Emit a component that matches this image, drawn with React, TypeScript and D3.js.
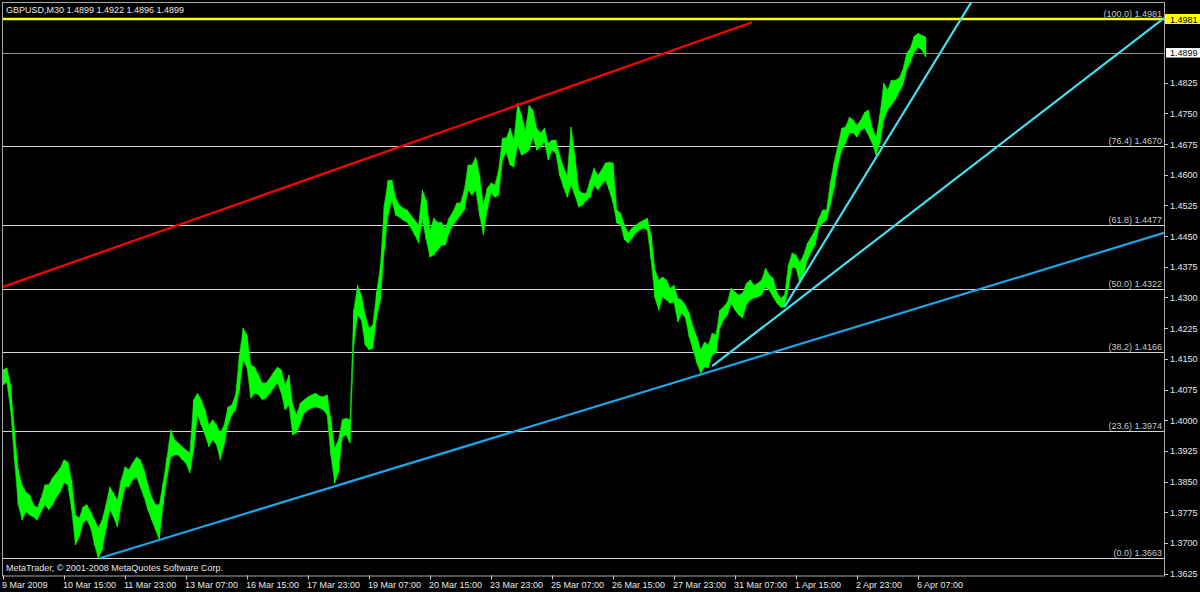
import React from 'react';
import * as d3 from 'd3';

// GBPUSD M30, one high/low pair every 4 bars (2 hours)
const highs = [
  1.4123, 1.4128, 1.4086, 1.3976, 1.3879, 1.3842, 1.3824, 1.3817, 1.3793, 1.3786,
  1.3810, 1.3842, 1.3842, 1.3859, 1.3871, 1.3883, 1.3903, 1.3898, 1.3854, 1.3768,
  1.3761, 1.3788, 1.3793, 1.3776, 1.3756, 1.3737, 1.3756, 1.3793, 1.3837, 1.3822,
  1.3805, 1.3854, 1.3886, 1.3879, 1.3895, 1.3910, 1.3903, 1.3879, 1.3842, 1.3812,
  1.3793, 1.3793, 1.3847, 1.3908, 1.3976, 1.3952, 1.3944, 1.3935, 1.3927, 1.3920,
  1.4050, 1.4066, 1.4050, 1.4025, 1.3988, 1.4001, 1.3988, 1.3969, 1.3988, 1.4032,
  1.4037, 1.4062, 1.4159, 1.4225, 1.4208, 1.4135, 1.4130, 1.4111, 1.4091, 1.4091,
  1.4103, 1.4118, 1.4130, 1.4123, 1.4086, 1.4110, 1.4037, 1.4013, 1.4042, 1.4050,
  1.4057, 1.4062, 1.4066, 1.4059, 1.4057, 1.4062, 1.4001, 1.3932, 1.3952, 1.4001,
  1.4005, 1.4001, 1.4269, 1.4330, 1.4306, 1.4257, 1.4225, 1.4233, 1.4313, 1.4379,
  1.4526, 1.4587, 1.4587, 1.4543, 1.4526, 1.4518, 1.4514, 1.4501, 1.4489, 1.4477,
  1.4563, 1.4538, 1.4465, 1.4494, 1.4484, 1.4484, 1.4470, 1.4494, 1.4509, 1.4531,
  1.4531, 1.4563, 1.4624, 1.4624, 1.4643, 1.4599, 1.4526, 1.4567, 1.4580, 1.4575,
  1.4612, 1.4690, 1.4690, 1.4714, 1.4685, 1.4775, 1.4746, 1.4709, 1.4770, 1.4758,
  1.4714, 1.4702, 1.4714, 1.4677, 1.4685, 1.4685, 1.4648, 1.4619, 1.4599, 1.4717,
  1.4648, 1.4563, 1.4555, 1.4555, 1.4587, 1.4616, 1.4599, 1.4612, 1.4629, 1.4631,
  1.4629, 1.4514, 1.4506, 1.4477, 1.4458, 1.4470, 1.4477, 1.4484, 1.4489, 1.4494,
  1.4453, 1.4367, 1.4343, 1.4350, 1.4343, 1.4323, 1.4330, 1.4298, 1.4294, 1.4281,
  1.4262, 1.4228, 1.4203, 1.4172, 1.4191, 1.4184, 1.4213, 1.4208, 1.4269, 1.4277,
  1.4289, 1.4323, 1.4313, 1.4306, 1.4311, 1.4335, 1.4343, 1.4330, 1.4335, 1.4343,
  1.4372, 1.4355, 1.4347, 1.4313, 1.4298, 1.4306, 1.4379, 1.4409, 1.4404, 1.4386,
  1.4404, 1.4433, 1.4448, 1.4465, 1.4494, 1.4514, 1.4514, 1.4580, 1.4631, 1.4672,
  1.4714, 1.4717, 1.4741, 1.4734, 1.4721, 1.4734, 1.4753, 1.4758, 1.4714, 1.4692,
  1.4746, 1.4824, 1.4807, 1.4831, 1.4831, 1.4836, 1.4856, 1.4897, 1.4910, 1.4939,
  1.4946, 1.4941, 1.4937,
];

const lows = [
  1.4086, 1.4093, 1.4025, 1.3903, 1.3793, 1.3756, 1.3776, 1.3768, 1.3763, 1.3756,
  1.3776, 1.3793, 1.3781, 1.3793, 1.3812, 1.3824, 1.3847, 1.3842, 1.3781, 1.3695,
  1.3715, 1.3749, 1.3756, 1.3737, 1.3695, 1.3663, 1.3683, 1.3732, 1.3781, 1.3763,
  1.3739, 1.3793, 1.3837, 1.3837, 1.3854, 1.3861, 1.3837, 1.3812, 1.3781, 1.3756,
  1.3732, 1.3708, 1.3793, 1.3859, 1.3910, 1.3915, 1.3915, 1.3903, 1.3895, 1.3871,
  1.3927, 1.4013, 1.3988, 1.3964, 1.3935, 1.3952, 1.3940, 1.3903, 1.3940, 1.3988,
  1.4013, 1.4025, 1.4074, 1.4147, 1.4128, 1.4054, 1.4066, 1.4062, 1.4050, 1.4054,
  1.4066, 1.4079, 1.4091, 1.4066, 1.4025, 1.4037, 1.3964, 1.3969, 1.3993, 1.4018,
  1.4025, 1.4030, 1.4032, 1.4030, 1.4025, 1.4013, 1.3915, 1.3846, 1.3873, 1.3959,
  1.3964, 1.3944, 1.4184, 1.4257, 1.4245, 1.4184, 1.4172, 1.4176, 1.4252, 1.4294,
  1.4416, 1.4501, 1.4538, 1.4501, 1.4496, 1.4489, 1.4484, 1.4470, 1.4453, 1.4433,
  1.4489, 1.4441, 1.4399, 1.4404, 1.4416, 1.4428, 1.4428, 1.4458, 1.4477, 1.4489,
  1.4501, 1.4514, 1.4563, 1.4550, 1.4563, 1.4501, 1.4453, 1.4514, 1.4555, 1.4545,
  1.4550, 1.4636, 1.4655, 1.4624, 1.4619, 1.4673, 1.4648, 1.4653, 1.4660, 1.4692,
  1.4660, 1.4668, 1.4680, 1.4636, 1.4660, 1.4653, 1.4599, 1.4570, 1.4545, 1.4575,
  1.4550, 1.4521, 1.4526, 1.4538, 1.4545, 1.4575, 1.4563, 1.4575, 1.4587, 1.4563,
  1.4531, 1.4482, 1.4477, 1.4441, 1.4433, 1.4445, 1.4458, 1.4465, 1.4470, 1.4465,
  1.4392, 1.4299, 1.4269, 1.4301, 1.4294, 1.4286, 1.4289, 1.4240, 1.4262, 1.4250,
  1.4203, 1.4172, 1.4140, 1.4115, 1.4130, 1.4128, 1.4159, 1.4164, 1.4225, 1.4245,
  1.4257, 1.4286, 1.4269, 1.4257, 1.4250, 1.4282, 1.4294, 1.4299, 1.4301, 1.4306,
  1.4325, 1.4318, 1.4301, 1.4286, 1.4276, 1.4276, 1.4323, 1.4374, 1.4372, 1.4335,
  1.4355, 1.4392, 1.4411, 1.4428, 1.4470, 1.4482, 1.4489, 1.4526, 1.4567, 1.4624,
  1.4660, 1.4677, 1.4702, 1.4702, 1.4692, 1.4709, 1.4714, 1.4697, 1.4677, 1.4648,
  1.4677, 1.4734, 1.4758, 1.4770, 1.4783, 1.4802, 1.4819, 1.4856, 1.4875, 1.4900,
  1.4912, 1.4905, 1.4888,
];
const barsPerSample = 4;

const timeLabels = [
  '9 Mar 2009', '10 Mar 15:00', '11 Mar 23:00', '13 Mar 07:00', '16 Mar 15:00',
  '17 Mar 23:00', '19 Mar 07:00', '20 Mar 15:00', '23 Mar 23:00', '25 Mar 07:00',
  '26 Mar 15:00', '27 Mar 23:00', '31 Mar 07:00', '1 Apr 15:00', '2 Apr 23:00', '6 Apr 07:00',
];
const barsPerTimeLabel = 64;

const priceTicks = [
  1.4825, 1.4750, 1.4675, 1.4600, 1.4525, 1.4450, 1.4375, 1.4300, 1.4225,
  1.4150, 1.4075, 1.4000, 1.3925, 1.3850, 1.3775, 1.3700, 1.3625,
];

const fibLevels = ['0.0', '23.6', '38.2', '50.0', '61.8', '76.4', '100.0'];
const fibPrices = [1.3663, 1.3974, 1.4166, 1.4322, 1.4477, 1.4670, 1.4981];

const yellowLine = 1.4981;
const lastPrice = 1.4899;
const header = 'GBPUSD,M30  1.4899 1.4922 1.4896 1.4899';

// trend lines: [bar, price] pairs, ray = extend to right edge
const trendLines = [
  { from: [-1, 1.4325], to: [786, 1.4973], color: '#ff0000', ray: false },
  { from: [102, 1.3663], to: [721, 1.4104], color: '#1aa6e8', ray: true },
  { from: [744, 1.4132], to: [1130, 1.4825], color: '#40e0f0', ray: true },
  { from: [820, 1.4277], to: [983, 1.4897], color: '#40e0f0', ray: true },
];

const W = 1200;
const H = 592;
const L = 2, T = 2, R = 1164, B = 575.5;
const font = "'Liberation Sans', Arial, sans-serif";

export default function App() {
  const x = d3.scaleLinear().domain([0, barsPerTimeLabel]).range([3, 64]);
  const y = d3.scaleLinear().domain([1.3663, 1.4981]).range([558, 19]);

  const samples = highs.map((h, i) => ({ i: i * barsPerSample, h, l: lows[i] }));
  const band = d3.area<any>()
    .x(d => x(d.i))
    .y0(d => y(d.l))
    .y1(d => y(d.h));

  const lines = trendLines.map(t => {
    const x1 = x(t.from[0]), y1 = y(t.from[1]);
    let x2 = x(t.to[0]), y2 = y(t.to[1]);
    if (t.ray) {
      const k = (y2 - y1) / (x2 - x1);
      y2 = y1 + k * (R - x1);
      x2 = R;
    }
    return { x1, y1, x2, y2, color: t.color };
  });

  return (
    <svg width={W} height={H} style={{ position: 'absolute', left: 0, top: 0, display: 'block' }}>
      <defs>
        <clipPath id="plot">
          <rect x={L} y={T} width={R - L} height={B - T} />
        </clipPath>
      </defs>
      <rect width={W} height={H} fill="#000" />

      <g clipPath="url(#plot)">
        {fibPrices.map((p, i) => (
          <line key={i} x1={L} x2={R} y1={Math.round(y(p)) + 0.5} y2={Math.round(y(p)) + 0.5}
            stroke="#d4d4d4" strokeWidth={1} />
        ))}
        <line x1={L} x2={R} y1={Math.round(y(lastPrice)) + 0.5} y2={Math.round(y(lastPrice)) + 0.5}
          stroke="#8c8c8c" strokeWidth={1} />
        <line x1={L} x2={R} y1={y(yellowLine)} y2={y(yellowLine)} stroke="#ffff00" strokeWidth={2.5} />

        <path d={band(samples) || ''} fill="#00ff00" stroke="#00e000" strokeWidth={0.6} />
        {samples.map(s => (
          <line key={s.i} x1={x(s.i)} x2={x(s.i)} y1={y(s.h)} y2={y(s.l)} stroke="#00ff00" strokeWidth={1} />
        ))}

        {lines.map((l, i) => (
          <line key={i} x1={l.x1} y1={l.y1} x2={l.x2} y2={l.y2} stroke={l.color} strokeWidth={2.2} />
        ))}
      </g>

      {fibLevels.map((lv, i) => (
        <text key={i} x={R - 2} y={Math.round(y(fibPrices[i])) - 2} textAnchor="end"
          fontFamily={font} fontSize={9} fill="#c8c8c8">
          {`(${lv})  ${fibPrices[i].toFixed(4)}`}
        </text>
      ))}

      <rect x={L + 0.5} y={T + 0.5} width={R - L} height={B - T} fill="none" stroke="#a8a8a8" strokeWidth={1} />

      <text x={6} y={13} fontFamily={font} fontSize={9} fill="#e8e8e8">{header}</text>
      <text x={6} y={570.5} fontFamily={font} fontSize={9} fill="#e8e8e8">
        MetaTrader, © 2001-2008 MetaQuotes Software Corp.
      </text>

      {priceTicks.map(p => (
        <g key={p}>
          <line x1={R} x2={R + 4} y1={Math.round(y(p)) + 0.5} y2={Math.round(y(p)) + 0.5} stroke="#c8c8c8" />
          <text x={R + 6} y={y(p) + 3.5} fontFamily={font} fontSize={9} fill="#e8e8e8">{p.toFixed(4)}</text>
        </g>
      ))}

      <rect x={R + 1} y={y(yellowLine) - 5} width={W - R - 1} height={10} fill="#ffff00" />
      <text x={R + 6} y={y(yellowLine) + 3.5} fontFamily={font} fontSize={9} fill="#000">{yellowLine.toFixed(4)}</text>
      <rect x={R + 2} y={y(lastPrice) - 4.5} width={W - R - 2} height={9.5} fill="#ffffff" />
      <text x={R + 6} y={y(lastPrice) + 3.5} fontFamily={font} fontSize={9} fill="#000">{lastPrice.toFixed(4)}</text>

      {timeLabels.map((t, i) => {
        const tx = x(i * barsPerTimeLabel);
        return (
          <g key={t}>
            <line x1={Math.round(tx) + 0.5} x2={Math.round(tx) + 0.5} y1={B} y2={B + 4} stroke="#c8c8c8" />
            <text x={tx - 1} y={587.5} fontFamily={font} fontSize={9} fill="#e8e8e8">{t}</text>
          </g>
        );
      })}
    </svg>
  );
}
